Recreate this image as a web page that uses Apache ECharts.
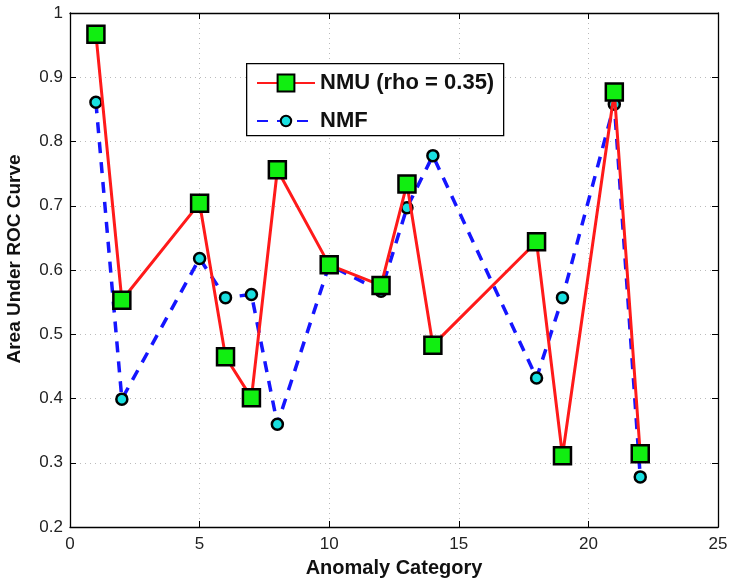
<!DOCTYPE html>
<html>
<head>
<meta charset="utf-8">
<script src="https://cdn.jsdelivr.net/npm/echarts@6/dist/echarts.min.js"></script>
<style>
  html, body { margin: 0; padding: 0; background: #fff; }
  #chart { width: 731px; height: 580px; }
</style>
</head>
<body>
<div id="chart"></div>
<script>
  // anomaly categories and AUC values
  const categories = [1, 2, 5, 6, 7, 8, 10, 12, 13, 14, 18, 19, 21, 22];
  const nmuValues = [0.967, 0.553, 0.704, 0.465, 0.401, 0.756, 0.608, 0.576, 0.734, 0.483, 0.644, 0.311, 0.877, 0.314];
  const nmfValues = [0.861, 0.399, 0.618, 0.557, 0.562, 0.360, 0.608, 0.567, 0.697, 0.778, 0.432, 0.557, 0.858, 0.278];
  const xTicks = [0, 5, 10, 15, 20, 25];
  const yTicks = [0.2, 0.3, 0.4, 0.5, 0.6, 0.7, 0.8, 0.9, 1];
  const seriesNames = ['NMU (rho = 0.35)', 'NMF'];

  const pairs = (vals) => categories.map((c, i) => [c, vals[i]]);

  const chart = echarts.init(document.getElementById('chart'));

  const font = 'Liberation Sans, Arial, sans-serif';
  const tickLabel = { color: '#222', fontSize: 17, fontFamily: font };
  const nameStyle = { fontSize: 20, fontWeight: 'bold', color: '#111', fontFamily: font };
  const dotted = { show: true, lineStyle: { color: '#bbb', type: [1, 4], width: 1 } };
  const boxLine = { show: true, onZero: false, lineStyle: { color: '#000', width: 1.3 } };
  const inTick = { show: true, inside: true, length: 6, lineStyle: { color: '#000' } };
  const legendText = { fontSize: 22, fontWeight: 'bold', color: '#111', fontFamily: font };

  // legend marker sizes differ per series, so one legend per entry inside a shared box
  const legendBase = {
    orient: 'vertical',
    left: 256,
    padding: 0,
    itemWidth: 58,
    textStyle: legendText,
    selectedMode: false
  };

  const option = {
    animation: false,
    grid: { left: 70, top: 13, right: 13, bottom: 53, containLabel: false, outerBoundsMode: 'none' },
    graphic: [{
      type: 'rect',
      left: 246,
      top: 63,
      z: 3,
      shape: { width: 257, height: 72 },
      style: { fill: '#fff', stroke: '#000', lineWidth: 1.3 }
    }],
    legend: [
      Object.assign({}, legendBase, { top: 72, itemHeight: 21, data: [seriesNames[0]] }),
      Object.assign({}, legendBase, { top: 110, itemHeight: 13, data: [seriesNames[1]] })
    ],
    xAxis: [{
      type: 'value',
      min: xTicks[0],
      max: xTicks[xTicks.length - 1],
      interval: 5,
      name: 'Anomaly Category',
      nameLocation: 'middle',
      nameGap: 31,
      nameTextStyle: nameStyle,
      axisLine: boxLine,
      axisTick: inTick,
      axisLabel: Object.assign({ margin: 9 }, tickLabel),
      splitLine: dotted
    }, {
      type: 'value',
      position: 'top',
      min: xTicks[0],
      max: xTicks[xTicks.length - 1],
      interval: 5,
      axisLine: boxLine,
      axisTick: inTick,
      axisLabel: { show: false },
      splitLine: { show: false }
    }],
    yAxis: [{
      type: 'value',
      min: yTicks[0],
      max: yTicks[yTicks.length - 1],
      interval: 0.1,
      name: 'Area Under ROC Curve',
      nameLocation: 'middle',
      nameGap: 46,
      nameTextStyle: Object.assign({}, nameStyle, { fontSize: 19, padding: [0, 0, 0, 22] }),
      axisLine: boxLine,
      axisTick: inTick,
      axisLabel: Object.assign({ margin: 7, formatter: (v) => String(+v.toFixed(1)) }, tickLabel),
      splitLine: dotted
    }, {
      type: 'value',
      position: 'right',
      min: yTicks[0],
      max: yTicks[yTicks.length - 1],
      interval: 0.1,
      axisLine: boxLine,
      axisTick: inTick,
      axisLabel: { show: false },
      splitLine: { show: false }
    }],
    series: [{
      name: seriesNames[1],
      type: 'line',
      data: pairs(nmfValues),
      symbol: 'circle',
      symbolSize: 11,
      z: 2,
      lineStyle: { color: '#1515ff', width: 3.5, type: [11, 9] },
      itemStyle: { color: '#19e0e0', borderColor: '#000', borderWidth: 2.5 }
    }, {
      name: seriesNames[0],
      type: 'line',
      data: pairs(nmuValues),
      symbol: 'rect',
      symbolSize: 17,
      z: 3,
      lineStyle: { color: '#ff1a1a', width: 3 },
      itemStyle: { color: '#11ee11', borderColor: '#000', borderWidth: 2.5 }
    }]
  };

  chart.setOption(option);
</script>
</body>
</html>
